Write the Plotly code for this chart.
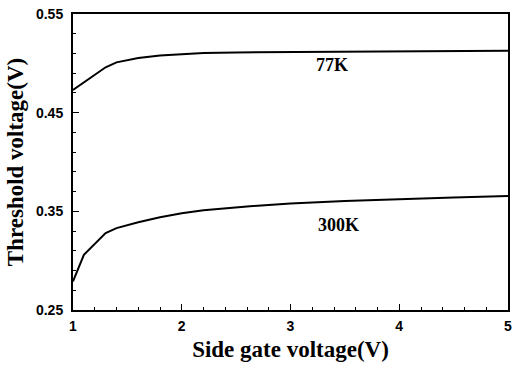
import plotly.graph_objects as go

x77 = [1.0, 1.3, 1.4, 1.6, 1.8, 2.0, 2.2, 2.5, 3.0, 3.5, 4.0, 4.5, 5.0]
y77 = [0.473, 0.496, 0.501, 0.5055, 0.508, 0.5095, 0.5105, 0.511, 0.5115, 0.512, 0.5122, 0.5125, 0.5128]

x300 = [1.0, 1.1, 1.3, 1.4, 1.6, 1.8, 2.0, 2.2, 2.6, 3.0, 3.5, 4.0, 4.5, 5.0]
y300 = [0.279, 0.306, 0.328, 0.333, 0.339, 0.344, 0.348, 0.351, 0.355, 0.358, 0.3605, 0.3625, 0.364, 0.3655]

xticks = [1, 2, 3, 4, 5]
yticks = [0.25, 0.35, 0.45, 0.55]
ytick_text = ["0.25", "0.35", "0.45", "0.55"]

labels = ["77K", "300K"]
label_x = [3.38, 3.44]
label_y = [0.498, 0.336]

fig = go.Figure()
fig.add_trace(go.Scatter(x=x77, y=y77, mode="lines", line=dict(color="black", width=2), showlegend=False))
fig.add_trace(go.Scatter(x=x300, y=y300, mode="lines", line=dict(color="black", width=2), showlegend=False))

for t, lx, ly in zip(labels, label_x, label_y):
    fig.add_annotation(x=lx, y=ly, text=f"<b>{t}</b>", showarrow=False,
                       font=dict(family="Liberation Serif", size=18, color="black"))

axis_common = dict(showline=True, linecolor="black", linewidth=2, mirror=True,
                   ticks="inside", ticklen=6, tickwidth=1.2, tickcolor="black",
                   showgrid=False, zeroline=False,
                   tickfont=dict(family="Liberation Sans", size=14, color="black"))

fig.update_xaxes(range=[1, 5], tickvals=xticks, ticktext=[f"<b>{v}</b>" for v in xticks],
                 minor=dict(ticks="inside", ticklen=3, dtick=0.2, tickcolor="black"),
                 ticklabelstandoff=2,
                 title=dict(text="<b>Side gate voltage(V)</b>", standoff=8,
                            font=dict(family="Liberation Serif", size=23, color="black")),
                 **axis_common)
fig.update_yaxes(range=[0.25, 0.55], tickvals=yticks, ticktext=[f"<b>{t}</b>" for t in ytick_text],
                 minor=dict(ticks="inside", ticklen=3, dtick=0.02, tick0=0.25, tickcolor="black"),
                 ticklabelstandoff=5,
                 title=dict(text="<b>Threshold voltage(V)</b>", standoff=6,
                            font=dict(family="Liberation Serif", size=23, color="black")),
                 **axis_common)

fig.update_layout(width=517, height=370, margin=dict(l=73, r=5, t=14, b=60),
                  plot_bgcolor="white", paper_bgcolor="white")

fig.write_html("out.html")
